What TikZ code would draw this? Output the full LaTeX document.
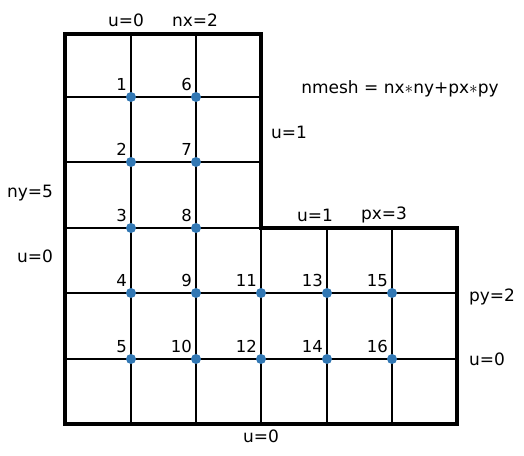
\documentclass[tikz,border=0pt]{standalone}
\usepackage{fontspec}
\setmainfont{DejaVu Sans}
\begin{document}
\begin{tikzpicture}[x=1pt,y=-1pt,
  thin line/.style={line width=1.1pt,black},
  thick frame/.style={line width=3.6pt,black,line join=miter},
  dot/.style={circle,fill=dotblue,inner sep=0pt,minimum size=10pt},
  num/.style={anchor=south east,inner sep=0pt,font=\fontsize{16.5}{16.5}\selectfont},
  lab/.style={inner sep=0pt,font=\fontsize{17}{17}\selectfont}]
\definecolor{dotblue}{RGB}{50,120,180}
\useasboundingbox (0,0) rectangle (524,455);
% grid
\draw[thin line] (131,34) -- (131,424) (196,34) -- (196,424);
\draw[thin line] (327,228) -- (327,424) (392,228) -- (392,424) (261,228) -- (261,424);
\draw[thin line] (65,97) -- (261,97) (65,162) -- (261,162) (65,228) -- (261,228);
\draw[thin line] (65,293) -- (457,293) (65,359) -- (457,359);
% frame
\draw[thick frame] (65,34) -- (261,34) -- (261,228) -- (457,228) -- (457,424) -- (65,424) -- cycle;
% dots
\foreach \n/\x/\y in {1/131/97,2/131/162,3/131/228,4/131/293,5/131/359,
  6/196/97,7/196/162,8/196/228,9/196/293,10/196/359,
  11/261/293,12/261/359,13/327/293,14/327/359,15/392/293,16/392/359}{
  \node[dot] (d\n) at (\x,\y) {};
  \node[num] (t\n) at ([xshift=-4pt,yshift=6pt]d\n.center) {\n};
}
% labels
\node[lab] (a1) at (126,20) {u=0};
\node[lab] (a2) at (195,20) {nx=2};
\node[lab] (a3) at (400,89) {nmesh = nx$*$ny+px$*$py};
\node[lab] (a4) at (289,132) {u=1};
\node[lab] (a5) at (30,193) {ny=5};
\node[lab] (a6) at (35,256) {u=0};
\node[lab] (a7) at (315,215) {u=1};
\node[lab] (a8) at (384,215) {px=3};
\node[lab] (a9) at (492,297) {py=2};
\node[lab] (a10) at (487,359) {u=0};
\node[lab] (a11) at (261,436) {u=0};
\end{tikzpicture}
\end{document}
